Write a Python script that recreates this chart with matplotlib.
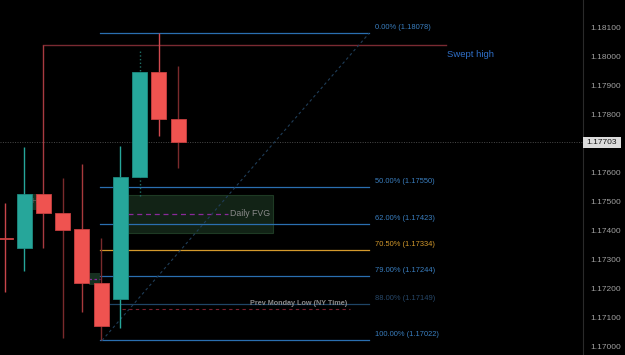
import matplotlib
matplotlib.use("Agg")
import matplotlib.pyplot as plt
from matplotlib.patches import Rectangle

# ---------------- data ----------------
idx    = [0, 1, 2, 3, 4, 5, 6, 7, 8, 9]
opens  = [1.17376, 1.17340, 1.17526, 1.17460, 1.17405, 1.17219, 1.17164, 1.17584, 1.17945, 1.17784]
highs  = [1.17495, 1.17687, 1.18038, 1.17581, 1.17629, 1.17374, 1.17691, 1.18021, 1.18078, 1.17966]
lows   = [1.17188, 1.17261, 1.17340, 1.17030, 1.17120, 1.17022, 1.17065, 1.17519, 1.17725, 1.17615]
closes = [1.17372, 1.17526, 1.17460, 1.17402, 1.17219, 1.17071, 1.17584, 1.17945, 1.17784, 1.17703]

fib_pcts   = ["0.00%", "50.00%", "62.00%", "70.50%", "79.00%", "88.00%", "100.00%"]
fib_prices = [1.18078, 1.17550, 1.17423, 1.17334, 1.17244, 1.17149, 1.17022]

swept_high = 1.18038
prev_monday_low = 1.17130
fvg_top, fvg_bottom, fvg_mid = 1.17522, 1.17391, 1.17457
small_fvg_top, small_fvg_bottom, small_fvg_mid = 1.17254, 1.17212, 1.17233
h_top, h_bottom = 1.17526, 1.17471
last_price = 1.17703

axis_ticks = [1.170, 1.171, 1.172, 1.173, 1.174, 1.175, 1.176, 1.178, 1.179, 1.180, 1.181]

# ---------------- style ----------------
UP = "#26a69a"
DOWN = "#ef5350"
wick_colors = ["#c8454a", "#26a69a", "#a83a40", "#7a2a2c", "#a8393c",
               "#7a2a2c", "#26a69a", "#1f6f66", "#d04a50", "#7a2a2c"]
wick_styles = ["-", "-", "-", "-", "-", "-", "-", ":", "-", "-"]
FIB_BLUE = "#2a6fb0"
FIB_TXT = "#3a7fc0"
fib_line_colors = [FIB_BLUE, FIB_BLUE, FIB_BLUE, "#d49a2c", FIB_BLUE, "#1f4566", FIB_BLUE]
fib_txt_colors = [FIB_TXT, FIB_TXT, FIB_TXT, "#d49a2c", FIB_TXT, "#27486a", FIB_TXT]

W, H = 625, 355
fig = plt.figure(figsize=(W / 100, H / 100), dpi=100, facecolor="black")
ax = fig.add_axes([0, 0, 583 / W, 1])
ax.set_facecolor("black")
ax.set_xlim(-0.26, 30.03)
ax.set_ylim(1.16972, 1.18193)
for s in ["top", "left", "bottom"]:
    ax.spines[s].set_visible(False)
ax.spines["right"].set_color("#2a2a2a")
ax.spines["right"].set_linewidth(0.8)
ax.set_xticks([])
ax.yaxis.tick_right()
ax.set_yticks(axis_ticks)
ax.set_yticklabels([f"{t:.5f}" for t in axis_ticks])
ax.tick_params(axis="y", length=0, pad=5, labelsize=6.0, labelcolor="#a0a0a0")
for lab in ax.get_yticklabels():
    lab.set_family("Liberation Sans")

FONT = "Liberation Sans"
bw = 0.78

# current price dotted line
ax.axhline(last_price, color="#4a4a4a", lw=0.7, ls=(0, (1, 1.5)), zorder=1)

# H label box (behind candles)
ax.add_patch(Rectangle((1.3, h_bottom), 0.55, h_top - h_bottom, facecolor="#173020",
                       edgecolor="none", zorder=1))
ax.text(1.5, (h_top + h_bottom) / 2, "H", color="#707070", fontsize=5.5, family=FONT,
        ha="center", va="center", zorder=1.5)

# Daily FVG box
ax.add_patch(Rectangle((6.39, fvg_bottom), 13.92 - 6.39, fvg_top - fvg_bottom,
                       facecolor="#122316", edgecolor="#1e3a24", lw=0.8, zorder=1))
ax.plot([6.39, 11.58], [fvg_mid, fvg_mid], color="#8a2a9a", lw=0.9, ls=(0, (4, 3)), zorder=2)
ax.text(11.69, fvg_mid, "Daily FVG", color="#8a8a8a", fontsize=6.3, family=FONT,
        ha="left", va="center", zorder=2)

# small FVG box
ax.add_patch(Rectangle((4.36, small_fvg_bottom), 0.6, small_fvg_top - small_fvg_bottom,
                       facecolor="#173020", edgecolor="none", zorder=1))
ax.plot([4.36, 4.94], [small_fvg_mid, small_fvg_mid], color="#8a2a9a", lw=0.9,
        ls=(0, (2, 2)), zorder=1.2)

# swept high line
ax.plot([2.0, 22.9], [swept_high, swept_high], color="#7a2a32", lw=1.0, zorder=2)
ax.text(22.96, 1.18004, "Swept high", color="#2f6fc8", fontsize=6.8, family=FONT,
        ha="left", va="center", zorder=3)

# fib levels
for pct, pr, lc, tc in zip(fib_pcts, fib_prices, fib_line_colors, fib_txt_colors):
    ax.plot([4.94, 18.91], [pr, pr], color=lc, lw=0.9, zorder=2)
    ax.text(19.22, pr + 0.00019, f"{pct} ({pr:.5f})", color=tc, fontsize=5.4,
            family=FONT, ha="left", va="center", zorder=3)

# fib diagonal
ax.plot([5.04, 18.91], [fib_prices[-1], fib_prices[0]], color="#1f3d58", lw=0.8,
        ls=(0, (2.5, 2.5)), zorder=2)

# prev monday low
ax.plot([6.08, 17.92], [prev_monday_low, prev_monday_low], color="#7a2030", lw=0.8,
        ls=(0, (3, 3)), zorder=2)
ax.text(15.25, fib_prices[5], "Prev Monday Low (NY Time)", color="#8a8a8a", fontsize=5.2,
        family=FONT, weight="bold", ha="center", va="center", zorder=3)

# candles
for i, o, h, l, c, wc, ws in zip(idx, opens, highs, lows, closes, wick_colors, wick_styles):
    col = UP if c >= o else DOWN
    ax.vlines(i, l, h, color=wc, lw=1.0, linestyles=ws, zorder=4)
    lo, hi = min(o, c), max(o, c)
    hgt = max(hi - lo, 0.00003)
    edge = "#1d8a80" if col == UP else "#c84040"
    ax.add_patch(Rectangle((i - bw / 2, lo), bw, hgt, facecolor=col, edgecolor=edge,
                           lw=0.6, zorder=5))

# last price label box on the axis
y0 = 1 - 148 / H
y1 = 1 - 137 / H
fig.patches.append(Rectangle((583 / W, y0), (621 - 583) / W, y1 - y0, facecolor="#dcdcdc",
                             edgecolor="none", transform=fig.transFigure, figure=fig))
fig.text((585 + 619) / 2 / W, (y0 + y1) / 2, f"{last_price:.5f}", color="#1a1a1a",
         fontsize=6.0, family=FONT, ha="center", va="center")

fig.savefig("out.png", dpi=100, facecolor="black")
